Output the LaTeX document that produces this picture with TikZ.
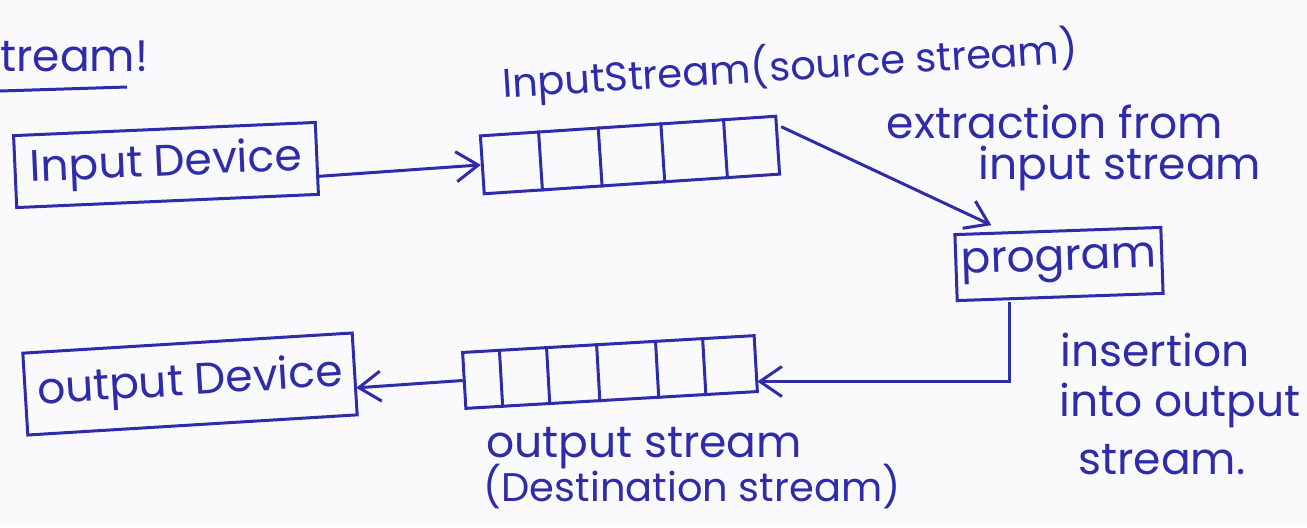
\documentclass[tikz,border=0pt]{standalone}
\usepackage{fontspec}
\setmainfont{Poppins}
\usetikzlibrary{arrows.meta,calc}
\definecolor{ink}{RGB}{46,44,168}
\definecolor{paper}{RGB}{250,250,253}
\begin{document}
\begin{tikzpicture}[x=0.5pt,y=-0.5pt,
  every node/.style={font=\fontsize{22}{26}\selectfont, text=ink},
  box/.style={draw=ink, line width=1.5pt, inner sep=0pt},
  lbl/.style={inner sep=0pt},
  small/.style={font=\fontsize{20}{24}\selectfont},
  cell/.style={draw=ink, line width=1.5pt},
  link/.style={draw=ink, line width=1.5pt,
    -{Straight Barb[length=11pt,width=15pt,line width=1.5pt]}}]
% paper
\fill[paper] (0,0) rectangle (1307,527);
\useasboundingbox (0,0) rectangle (1307,527);

% heading fragment and its underline
\node[lbl, anchor=west] (head) at (0,56) {tream!};
\draw[ink, line width=1.5pt] (0,91) -- (127,87);

% devices and program
\node[box, minimum width=151pt, minimum height=36pt, rotate=2.5] (idev) at (166,165) {Input Device};
\node[box, minimum width=165pt, minimum height=41pt, rotate=3.5] (odev) at (190,384) {output Device};
\node[box, minimum width=103pt, minimum height=33pt, rotate=2] (prog) at (1059,264) {program};

% stream buffers
\node[box, minimum width=148pt, minimum height=29pt, rotate=3.8] (istr) at (630,155) {};
\node[box, minimum width=146pt, minimum height=28pt, rotate=3.3] (ostr) at (610,372) {};
\foreach \f in {0.2,0.4,0.61,0.82}
  \draw[cell] ($(istr.north west)!\f!(istr.north east)$) -- ($(istr.south west)!\f!(istr.south east)$);
\foreach \f in {0.13,0.29,0.46,0.66,0.82}
  \draw[cell] ($(ostr.north west)!\f!(ostr.north east)$) -- ($(ostr.south west)!\f!(ostr.south east)$);

% captions (the buffer caption climbs slightly to the right)
\node[lbl, small, rotate=3.5, anchor=base west] (icapa) at (503,98) {InputStream(};
\node[lbl, small, rotate=3.5, anchor=base west] (icapb) at (icapa.base east) {source stream)};
\node[lbl] (ext1) at (1055,122) {extraction from};
\node[lbl] (ext2) at (1120,168) {input stream};
\node[lbl] (ins1) at (1155,350) {insertion};
\node[lbl] (ins2) at (1180,405) {into output};
\node[lbl] (ins3) at (1162,460) {stream.};
\node[lbl] (ocap1) at (644,448) {output stream};
\node[lbl, small] (ocap2) at (692,487) {(Destination stream)};

% data flow
\draw[link] ([yshift=-9pt]idev.east) -- (istr.west);
\draw[link] ([xshift=2pt,yshift=-6pt]istr.north east) -- ([xshift=19pt,yshift=4pt]prog.north west);
\draw[link] ([xshift=27pt]prog.south west) |- ([yshift=-9pt]ostr.east);
\draw[link] (ostr.west) -- ([yshift=-7pt]odev.east);
\end{tikzpicture}
\end{document}
